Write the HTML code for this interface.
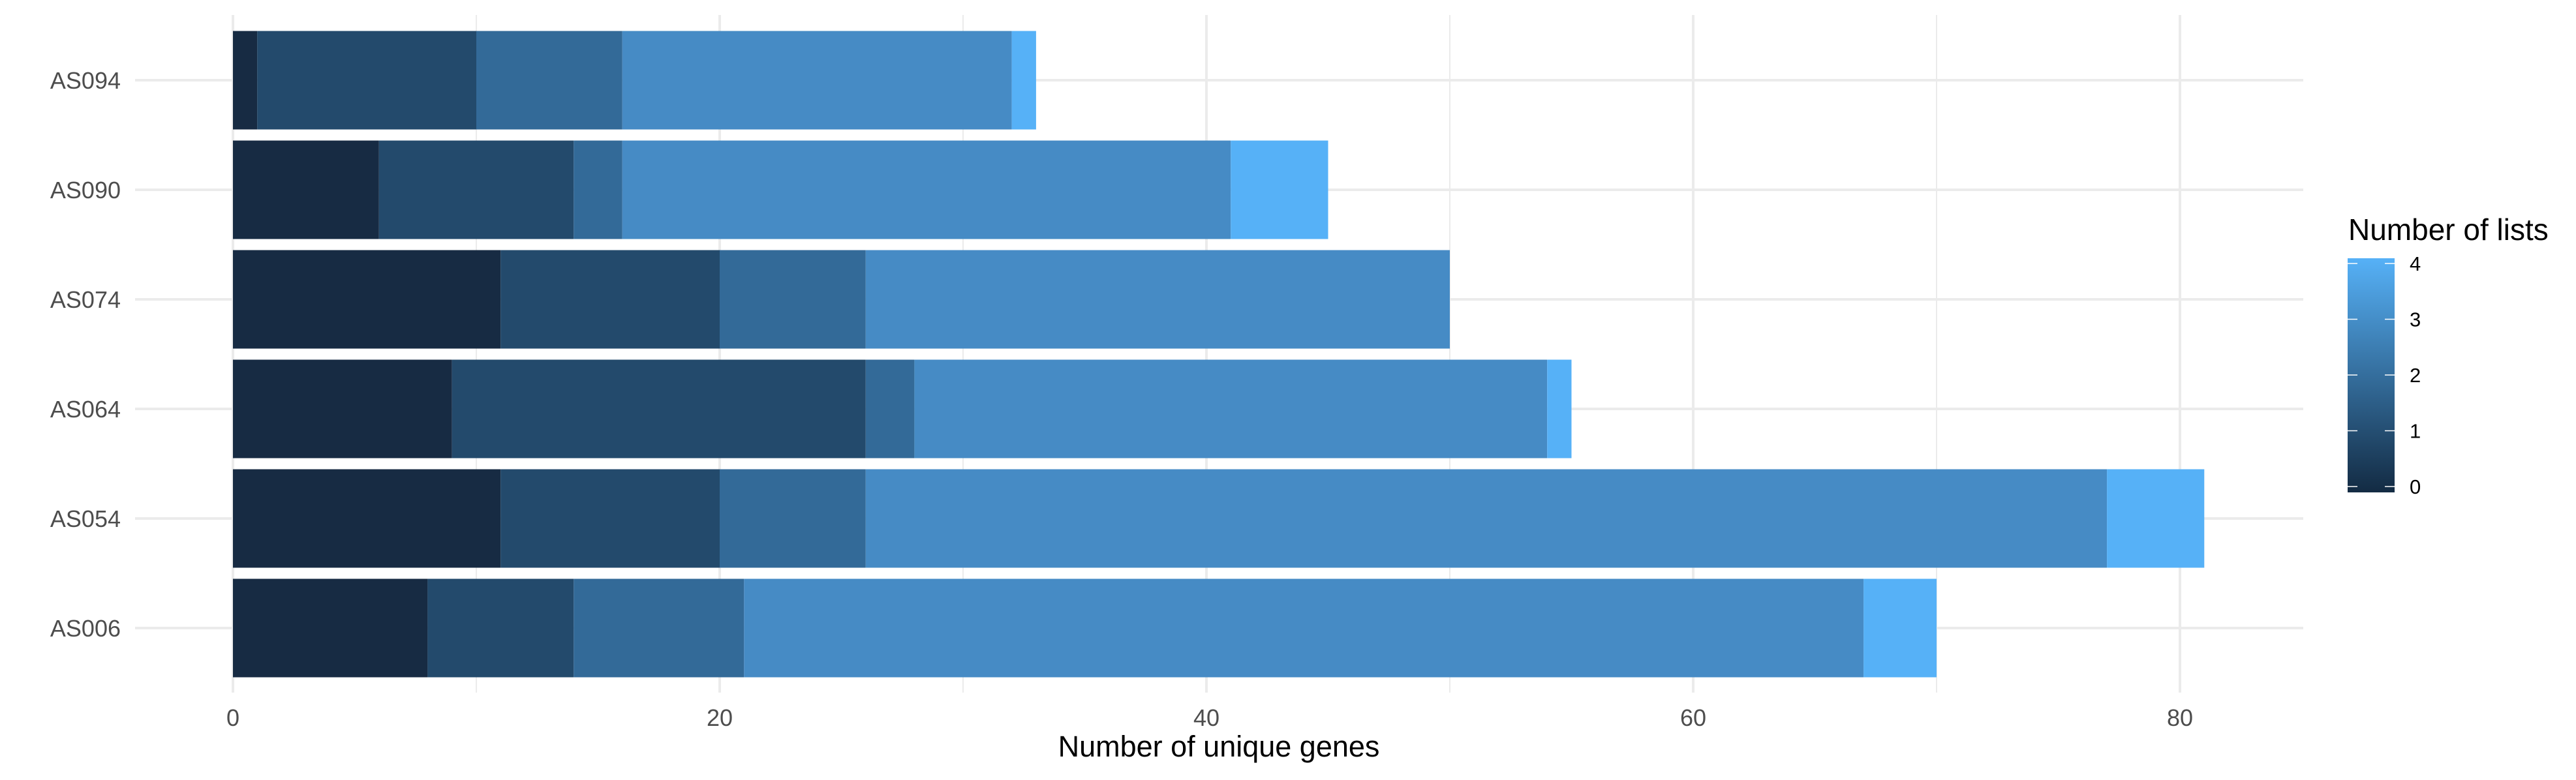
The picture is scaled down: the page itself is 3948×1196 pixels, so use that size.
<!DOCTYPE html>
<html><head><meta charset="utf-8"><style>
html,body{margin:0;padding:0;background:#fff;}
svg{display:block;font-family:"Liberation Sans",Arial,sans-serif;}
</style></head><body>
<svg id="chart" width="3948" height="1196" viewBox="0 0 3948 1196">
<defs>
<linearGradient id="cbar" x1="0" y1="1" x2="0" y2="0">
<stop offset="0" stop-color="#132B43"/><stop offset="1" stop-color="#56B1F7"/>
</linearGradient>
</defs>
<g id="grid"></g>
<g id="bars"></g>
<g id="axes"></g>
<text x="1868" y="1160" font-size="45" text-anchor="middle" fill="#000">Number of unique genes</text>
<g>
<text x="3599" y="368" font-size="46" fill="#000">Number of lists</text>
<rect x="3598" y="396" width="72" height="359" fill="url(#cbar)"/>
<g id="legendTicks"></g>
</g>
</svg>
<script>
const categories = ["AS094","AS090","AS074","AS064","AS054","AS006"];
const level0 = [1,6,11,9,11,8];
const level1 = [9,8,9,17,9,6];
const level2 = [6,2,6,2,6,7];
const level3 = [16,25,24,26,51,46];
const level4 = [1,4,0,1,4,3];
const xTicks = [0,20,40,60,80];
const xMinor = [10,30,50,70];
const legendTicks = [0,1,2,3,4];
const levelColors = ["#172B43","#234A6C","#336A98","#468BC5","#56B1F7"];

const NS="http://www.w3.org/2000/svg";
const panelL=207, panelR=3530, panelT=23, panelB=1062;
function xs(v){return 357+v*37.3;}
function yc(i){return 123+i*168;}
const barH=151;
function mk(tag,attrs,parent){const e=document.createElementNS(NS,tag);for(const k in attrs)e.setAttribute(k,attrs[k]);parent.appendChild(e);return e;}
const grid=document.getElementById('grid'),bars=document.getElementById('bars'),axes=document.getElementById('axes');
xMinor.forEach(v=>{const l=mk('line',{x1:xs(v),x2:xs(v),y1:panelT,y2:panelB,stroke:'#ebebeb','stroke-width':2},grid);

});
xTicks.forEach(v=>{const l=mk('line',{x1:xs(v),x2:xs(v),y1:panelT,y2:panelB,stroke:'#ebebeb','stroke-width':4},grid);


const t=mk('text',{x:xs(v),y:1113,'font-size':36,'text-anchor':'middle',fill:'#4d4d4d'},axes);t.textContent=v;

});
categories.forEach((c,i)=>{const l=mk('line',{x1:panelL,x2:panelR,y1:yc(i),y2:yc(i),stroke:'#ebebeb','stroke-width':4},grid);


const t=mk('text',{x:185,y:yc(i)+13,'font-size':36,'text-anchor':'end',fill:'#4d4d4d'},axes);t.textContent=c;

});
const levels=[level0,level1,level2,level3,level4];
categories.forEach((c,i)=>{let acc=0;levels.forEach((arr,k)=>{const v=arr[i];if(v>0){const r=mk('rect',{x:xs(acc),y:yc(i)-barH/2,width:xs(acc+v)-xs(acc),height:barH,fill:levelColors[k]},bars);

}acc+=v;});});
const lt=document.getElementById('legendTicks');
legendTicks.forEach(v=>{const y=746-v*(746-404)/4;
mk('line',{x1:3598,x2:3613,y1:y,y2:y,stroke:'#fff','stroke-width':1.5},lt);
mk('line',{x1:3655,x2:3670,y1:y,y2:y,stroke:'#fff','stroke-width':1.5},lt);
const t=mk('text',{x:3693,y:y+11,'font-size':31,fill:'#000'},lt);t.textContent=v;

});
</script>
</body></html>
